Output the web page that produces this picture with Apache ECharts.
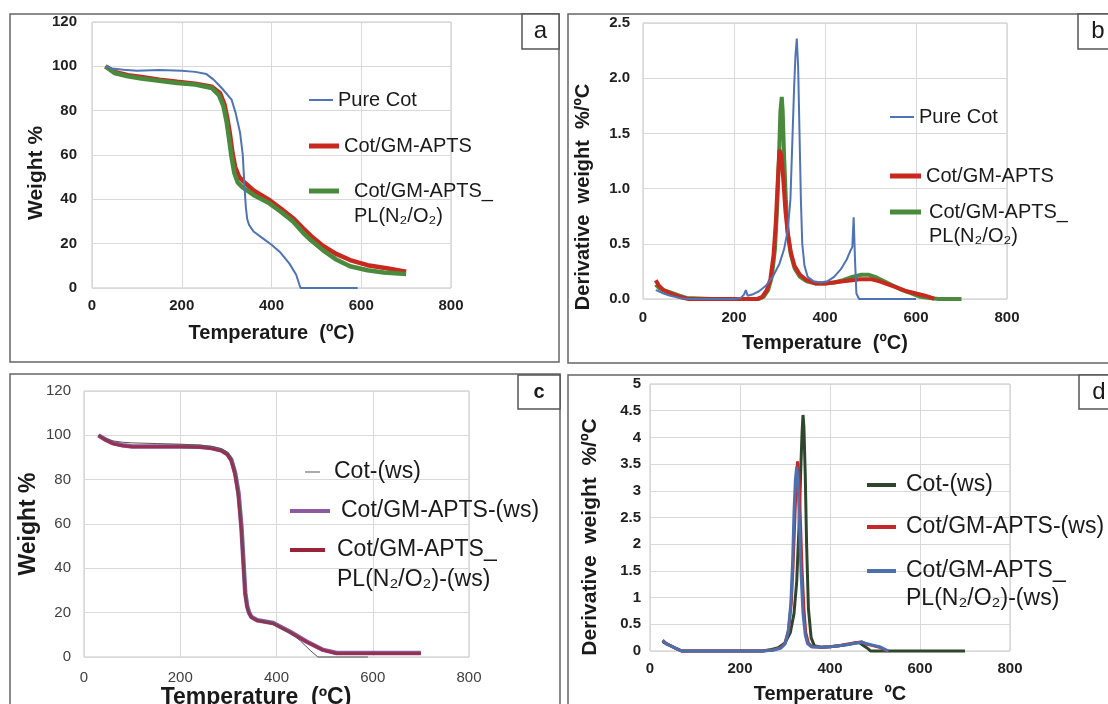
<!DOCTYPE html>
<html><head><meta charset="utf-8">
<script src="https://cdn.jsdelivr.net/npm/echarts@6.0.0/dist/echarts.min.js"></script>
<style>html,body{margin:0;padding:0;background:#fff;}#c{width:1108px;height:704px;}</style>
</head><body><div id="c"></div>
<script>
// ---------- Panel a : TGA ----------
const aPureT = [30,45,70,100,150,200,230,255,271,290,311,320,330,336,340,343,346,350,360,380,400,420,440,455,463,465,520,592];
const aPureV = [100,99,98.5,98,98.3,98,97.5,96.5,94,90,85,79,70,60,45,36,31,28.5,25.5,22.5,19.5,16,11,6,1,0,0,0];
const aGmT = [30,50,80,110,150,190,230,267,285,295,302,307,313,319,328,338,360,393,420,448,470,488,515,543,575,614,660,700];
const aGmV = [100,97.5,96,95.2,94,93,92.2,90.8,88,83,76,70,61,54.6,50,48,44,40,36,31.5,27,23.5,19,15.5,12.6,10.3,8.8,7.3];
const aPlT = [30,50,80,110,150,190,230,267,283,293,300,305,311,317,325,335,360,393,420,448,470,488,515,543,575,614,650,700];
const aPlV = [100,97,95.5,94.5,93.5,92.5,91.8,90.2,87,82,75,68,59,52,47.5,45.5,42,38.5,34.5,30,25,21.5,17,13,9.8,8,7,6.3];

// ---------- Panel b : DTG ----------
const bPureT = [28,35,45,60,80,100,150,200,215,222,226,230,240,255,270,285,300,310,318,324,328,332,335,338,341,344,347,350,355,362,375,390,405,420,435,448,455,460,463,466,469,475,520,600];
const bPureV = [0.08,0.07,0.05,0.03,0.01,0,0,0,0.01,0.04,0.08,0.03,0.04,0.07,0.12,0.2,0.32,0.45,0.62,0.9,1.4,1.9,2.2,2.36,2.1,1.5,0.9,0.5,0.3,0.2,0.16,0.15,0.16,0.2,0.27,0.36,0.43,0.47,0.74,0.35,0.05,0,0,0];
const bGmT = [28,35,45,60,80,100,150,200,250,262,272,280,287,292,296,300,304,308,313,318,325,333,345,360,380,400,420,440,460,480,500,520,540,560,580,600,620,635,640];
const bGmV = [0.17,0.12,0.08,0.05,0.02,0,0,0,0,0.02,0.08,0.18,0.4,0.7,1.05,1.35,1.3,1.1,0.8,0.6,0.42,0.3,0.22,0.17,0.14,0.14,0.15,0.16,0.17,0.18,0.18,0.16,0.13,0.1,0.07,0.05,0.03,0.01,0];
const bPlT = [28,35,45,60,80,95,150,200,255,265,275,283,290,295,299,302,305,307,310,314,318,325,333,345,360,380,400,420,440,460,480,495,510,530,550,570,590,610,630,650,700];
const bPlV = [0.13,0.1,0.08,0.06,0.03,0.01,0,0,0,0.02,0.08,0.2,0.45,0.85,1.3,1.7,1.83,1.7,1.3,0.9,0.6,0.4,0.28,0.2,0.16,0.14,0.14,0.15,0.17,0.2,0.22,0.22,0.2,0.16,0.12,0.08,0.05,0.02,0.01,0,0];

// ---------- Panel c : TGA (ws) ----------
const cCotT = [30,45,60,80,100,150,200,240,265,285,298,306,314,321,327,331,335,339,343,348,360,393,428,450,470,486,520,590];
const cCotV = [100,98.6,97.5,96.9,96.6,96.3,96,95.6,95,94,92.5,90,85,76,62,47,32,24,20.5,18.3,16.9,15.4,11.2,7.2,3,0,0,0];
const cWsT = [30,45,60,80,100,150,200,240,265,285,298,306,314,321,327,331,335,339,343,348,360,393,428,463,497,525,560,600,650,700];
const cGmV = [100,98,96.5,95.5,95,95,95,94.8,94.3,93.2,91.5,89,83,74,59,44,29,23,20,18,16.6,15.3,11.4,6.9,3.2,1.8,1.8,1.8,1.8,1.8];
const cPlV = [100,97.8,96.2,95.3,94.8,94.8,94.8,94.6,94,93,91.2,88.5,82,72,57,42,28,22.5,19.7,17.8,16.4,15.1,11.2,6.8,3.1,1.6,1.6,1.6,1.6,1.6];

// ---------- Panel d : DTG (ws) ----------
const dCotT = [28,35,45,55,65,70,150,250,270,285,300,312,320,326,331,335,338,340,342,345,348,352,358,365,380,400,420,440,455,465,475,485,490,550,700];
const dCotV = [0.18,0.14,0.1,0.06,0.02,0,0,0,0.03,0.06,0.15,0.35,0.7,1.3,2.3,3.4,4.1,4.42,4.2,3.3,2.0,0.8,0.25,0.1,0.07,0.08,0.1,0.12,0.15,0.16,0.1,0.04,0,0,0];
const dGmT = [28,35,45,55,65,70,150,250,275,290,300,308,314,318,322,325,328,331,334,338,342,346,352,360,380,400,420,440,460,470,480,495,510,520,528];
const dGmV = [0.2,0.15,0.1,0.06,0.02,0,0,0,0.02,0.06,0.15,0.4,0.9,1.6,2.5,3.2,3.55,3.3,2.5,1.5,0.8,0.35,0.15,0.08,0.07,0.08,0.1,0.13,0.16,0.17,0.13,0.1,0.07,0.03,0];
const dPlT = [28,35,45,55,65,70,150,250,275,290,300,307,313,317,320,323,326,329,332,336,340,345,350,358,380,400,420,440,460,470,480,495,510,520,530];
const dPlV = [0.2,0.14,0.1,0.06,0.02,0,0,0,0.02,0.05,0.13,0.35,0.9,1.7,2.6,3.2,3.45,3.2,2.4,1.4,0.7,0.3,0.14,0.08,0.07,0.08,0.1,0.12,0.15,0.17,0.14,0.11,0.08,0.04,0];

// ---------- names / tick settings ----------
const nPure = 'Pure Cot', nGm = 'Cot/GM-APTS', nPl = 'Cot/GM-APTS_PL(N\u2082/O\u2082)';
const nCws = 'Cot-(ws)', nGmws = 'Cot/GM-APTS-(ws)', nPlws = 'Cot/GM-APTS_PL(N\u2082/O\u2082)-(ws)';
const tempTicks = {min:0, max:800, interval:200};
const wTicks = {min:0, max:120, interval:20};
const dA = {min:0, max:2.5, interval:0.5};
const dB = {min:0, max:5, interval:0.5};

const FONT = '"Liberation Sans", Arial, Helvetica, sans-serif';
const C = {blue:'#4f74b5', red:'#c8281e', green:'#4a8a3c', grey:'#555555', purple:'#8c5a9e', maroon:'#9b2338', dgreen:'#2e472c', dred:'#c4282c', dblue:'#4d6fae'};

function pts(t, v){ return t.map((x,i)=>[x, v[i]]); }
function ln(name, t, v, idx, color, w, z, op){
  return {type:'line', name, xAxisIndex:idx, yAxisIndex:idx, data:pts(t,v), symbol:'none', clip:false, z,
    lineStyle:{color, width:w, opacity: op==null?1:op}, itemStyle:{color}, animation:false};
}
function xAx(idx, name, gap, fs, lab, pad, labelMargin){
  return Object.assign({type:'value', gridIndex:idx, name, nameLocation:'middle', nameGap:gap,
    nameTextStyle:{fontFamily:FONT, fontSize:fs, fontWeight:'bold', color:'#1a1a1a', padding:pad||0},
    axisLine:{show:false}, axisTick:{show:false},
    splitLine:{show:true, lineStyle:{color:'#d9d9d9', width:1}},
    axisLabel:Object.assign({fontFamily:FONT, margin:labelMargin, showMinLabel:true, showMaxLabel:true}, lab)}, tempTicks);
}
function yAx(idx, name, gap, fs, lab, ticks, pad, labelMargin, fmt){
  const o = Object.assign({type:'value', gridIndex:idx, name, nameLocation:'middle', nameGap:gap,
    nameTextStyle:{fontFamily:FONT, fontSize:fs, fontWeight:'bold', color:'#1a1a1a', padding:pad||0},
    axisLine:{show:false}, axisTick:{show:false},
    splitLine:{show:true, lineStyle:{color:'#d9d9d9', width:1}},
    axisLabel:Object.assign({fontFamily:FONT, margin:labelMargin, showMinLabel:true, showMaxLabel:true}, lab)}, ticks);
  if (fmt) o.axisLabel.formatter = fmt;
  return o;
}
// two-line labels: a blank first line keeps the first text line level with the icon
function lg(name, label, color, left, cy, iw, ih, fs, L, padL, two){
  return {data:[{name, itemStyle:{color, borderWidth:0}}], left, top: two ? cy - 1.5*L : cy - L/2,
    padding:0, itemWidth:iw, itemHeight:ih, icon:'rect', selectedMode:false,
    formatter:()=> two ? '\u00a0\n' + label : label,
    textStyle:{fontFamily:FONT, fontSize:fs, lineHeight:L, color:'#1a1a1a', padding:[0,0,0,padL]}};
}
function frame(x,y,w,h){ return {type:'rect', silent:true, shape:{x,y,width:w,height:h}, style:{fill:'none', stroke:'#666', lineWidth:1.5}, z:0}; }
function tag(x,y,w,h,t,fs,bold){
  return [{type:'rect', silent:true, shape:{x,y,width:w,height:h}, style:{fill:'#fff', stroke:'#555', lineWidth:1.5}, z:1},
    {type:'text', silent:true, x:x+w/2, y:y+h/2, style:{text:t, font:(bold?'bold ':'')+fs+'px '+FONT, fill:'#1a1a1a', align:'center', verticalAlign:'middle'}, z:2}];
}

const labAB = {fontSize:15, fontWeight:'bold', color:'#1f1f1f'};
const labC = {fontSize:15, color:'#404040'};
const labD = {fontSize:15, fontWeight:'bold', color:'#1f1f1f'};

const option = {
  backgroundColor:'#fff',
  animation:false,
  grid:[
    {left:92, top:22, width:359, height:266, show:true, borderColor:'#c4c4c4', borderWidth:1, outerBoundsMode:'none'},
    {left:643, top:23, width:364, height:276, show:true, borderColor:'#c4c4c4', borderWidth:1, outerBoundsMode:'none'},
    {left:84, top:391, width:385, height:266, show:true, borderColor:'#c4c4c4', borderWidth:1, outerBoundsMode:'none'},
    {left:650, top:384, width:360, height:267, show:true, borderColor:'#c4c4c4', borderWidth:1, outerBoundsMode:'none'}
  ],
  xAxis:[
    xAx(0, 'Temperature  (\u00baC)', 35, 20, labAB, 0, 10),
    xAx(1, 'Temperature  (\u00baC)', 34, 20, labAB, 0, 11),
    xAx(2, 'Temperature  (\u00baC)', 24, 23, labC, [0,41,0,0], 13),
    xAx(3, 'Temperature  \u00baC', 33, 20, labD, 0, 10)
  ],
  yAxis:[
    yAx(0, 'Weight %', 45, 21, labAB, wTicks, [0,36,0,0], 15),
    yAx(1, 'Derivative  weight  %/\u00baC', 50, 20, labAB, dA, [0,72,0,0], 13, v=>v.toFixed(1)),
    yAx(2, 'Weight %', 44, 23, labC, wTicks, 0, 13),
    yAx(3, 'Derivative  weight  %/\u00baC', 49, 21, labD, dB, [0,39,0,0], 9)
  ],
  legend:[
    lg(nPure, 'Pure Cot', C.blue, 309, 100, 24, 2, 20, 25, 0, false),
    lg(nGm, 'Cot/GM-APTS', C.red, 309, 146, 30, 5, 20, 25, 0, false),
    lg(nPl, 'Cot/GM-APTS_\nPL(N\u2082/O\u2082)', C.green, 309, 191, 30, 5, 20, 25, 10, true),
    lg(nPure, 'Pure Cot', C.blue, 890, 117, 24, 2, 20, 24, 0, false),
    lg(nGm, 'Cot/GM-APTS', C.red, 890, 176, 31, 5, 20, 24, 0, false),
    lg(nPl, 'Cot/GM-APTS_\nPL(N\u2082/O\u2082)', C.green, 890, 212, 31, 5, 20, 24, 3, true),
    lg(nCws, 'Cot-(ws)', C.grey, 305, 472, 15, 1, 23, 30, 9, false),
    lg(nGmws, 'Cot/GM-APTS-(ws)', C.purple, 290, 511, 40, 4, 23, 30, 6, false),
    lg(nPlws, 'Cot/GM-APTS_\nPL(N\u2082/O\u2082)-(ws)', C.maroon, 290, 550, 35, 4, 23, 30, 7, true),
    lg(nCws, 'Cot-(ws)', C.dgreen, 867, 485, 29, 4, 23, 28, 5, false),
    lg(nGmws, 'Cot/GM-APTS-(ws)', C.dred, 867, 527, 29, 4, 23, 28, 5, false),
    lg(nPlws, 'Cot/GM-APTS_\nPL(N\u2082/O\u2082)-(ws)', C.dblue, 867, 571, 29, 4, 23, 28, 5, true)
  ],
  series:[
    ln(nGm, aGmT, aGmV, 0, C.red, 4.5, 2),
    ln(nPl, aPlT, aPlV, 0, C.green, 4.5, 3),
    ln(nPure, aPureT, aPureV, 0, C.blue, 2, 4),
    ln(nPl, bPlT, bPlV, 1, C.green, 4, 2),
    ln(nGm, bGmT, bGmV, 1, C.red, 4, 3),
    ln(nPure, bPureT, bPureV, 1, C.blue, 2, 4),
    ln(nGmws, cWsT, cGmV, 2, C.purple, 4.5, 2),
    ln(nPlws, cWsT, cPlV, 2, C.maroon, 3, 3, 0.75),
    ln(nCws, cCotT, cCotV, 2, C.grey, 1, 4),
    ln(nCws, dCotT, dCotV, 3, C.dgreen, 3, 2),
    ln(nGmws, dGmT, dGmV, 3, C.dred, 3, 3),
    ln(nPlws, dPlT, dPlV, 3, C.dblue, 3, 4)
  ],
  graphic:[
    frame(10,14,549,348), frame(568,14,545,349), frame(10,374,550,335), frame(568,375,545,334)
  ].concat(tag(522,14,37,35,'a',24,false), tag(1078,14,40,35,'b',24,false), tag(518,375,42,34,'c',20,true), tag(1079,375,40,34,'d',24,false))
};
const chart = echarts.init(document.getElementById('c'), null, {renderer:'canvas'});
chart.setOption(option);
</script></body></html>
